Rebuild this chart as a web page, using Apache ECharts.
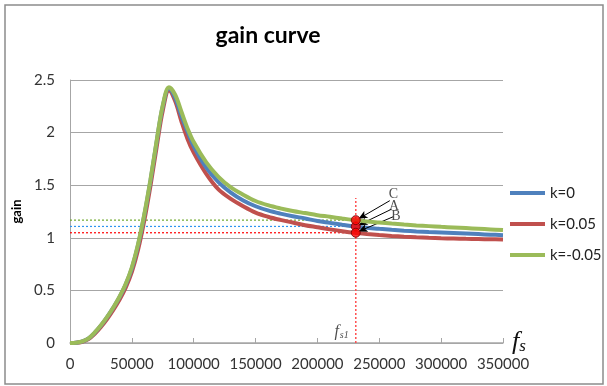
<!DOCTYPE html>
<html>
<head>
<meta charset="utf-8">
<script src="https://cdn.jsdelivr.net/npm/echarts@6/dist/echarts.min.js"></script>
<style>
  html, body { margin: 0; padding: 0; background: #fff; }
  #chart { width: 607px; height: 386px; }
</style>
</head>
<body>
<div id="chart"></div>
<script>
// frequency samples (Hz)
const freqs = [0, 5000, 10000, 15000, 20000, 25000, 30000, 35000, 40000, 45000, 50000,
  55000, 60000, 65000, 70000, 75000, 80000, 85000, 90000, 95000, 100000,
  110000, 120000, 130000, 140000, 150000, 160000, 170000, 180000, 190000, 200000,
  210000, 220000, 230000, 240000, 250000, 260000, 270000, 280000, 290000, 300000,
  310000, 320000, 330000, 340000, 350000]

// gain for each k
const gainK0 = [0, 0.003, 0.015, 0.044, 0.098, 0.166, 0.246, 0.336, 0.435, 0.555, 0.71,
  0.93, 1.21, 1.54, 1.91, 2.25, 2.42, 2.33, 2.16, 2.01, 1.87,
  1.67, 1.53, 1.43, 1.355, 1.30, 1.26, 1.23, 1.205, 1.184, 1.16,
  1.142, 1.124, 1.108, 1.095, 1.085, 1.076, 1.068, 1.061, 1.055, 1.05,
  1.045, 1.04, 1.035, 1.03, 1.025]
const gainK005 = [0, 0.002, 0.012, 0.038, 0.088, 0.153, 0.228, 0.315, 0.41, 0.525, 0.675,
  0.885, 1.16, 1.49, 1.86, 2.21, 2.40, 2.30, 2.11, 1.94, 1.81,
  1.61, 1.46, 1.37, 1.30, 1.24, 1.20, 1.17, 1.145, 1.12, 1.10,
  1.08, 1.063, 1.048, 1.036, 1.026, 1.018, 1.011, 1.005, 1.0, 0.996,
  0.993, 0.99, 0.988, 0.986, 0.984]
const gainKm005 = [0, 0.003, 0.015, 0.045, 0.1, 0.168, 0.248, 0.338, 0.44, 0.56, 0.72,
  0.94, 1.22, 1.55, 1.92, 2.26, 2.43, 2.36, 2.2, 2.04, 1.91,
  1.72, 1.58, 1.48, 1.41, 1.35, 1.31, 1.28, 1.255, 1.235, 1.215,
  1.2, 1.183, 1.168, 1.155, 1.145, 1.135, 1.126, 1.118, 1.111, 1.104,
  1.098, 1.092, 1.086, 1.08, 1.074]

const seriesNames = ['k=0', 'k=0.05', 'k=-0.05']
const seriesColors = ['#4f81bd', '#c0504d', '#9bbb59']

// operating point fs1 and gains read there
const fs1 = 231000
const pointNames = ['A', 'B', 'C']
const pointGains = [1.108, 1.048, 1.168]
const guideColors = ['#2e95f0', '#ff0000', '#6ea82c']
// label positions and arrow starts (data units)
const labelPos = [[262000, 1.30], [263500, 1.207], [261500, 1.41]]
const arrowFrom = [[259900, 1.272], [261200, 1.20], [258500, 1.353]]
const vLineTop = 1.378

const xTicks = [0, 50000, 100000, 150000, 200000, 250000, 300000, 350000]
const yTicks = [0, 0.5, 1, 1.5, 2, 2.5]

const chart = echarts.init(document.getElementById('chart'))

const zip = (ys) => freqs.map((f, i) => [f, ys[i]])
const curveData = [gainK0, gainK005, gainKm005]

const series = curveData.map((ys, i) => ({
  name: seriesNames[i],
  type: 'line',
  data: zip(ys),
  smooth: 0.35,
  showSymbol: false,
  z: 3 + (i === 2 ? 2 : i === 0 ? 1 : 0),
  lineStyle: { color: seriesColors[i], width: 4 },
  itemStyle: { color: seriesColors[i] }
}))

// dotted guide lines from y axis to fs1
pointGains.forEach((g, i) => {
  series.push({
    type: 'line',
    data: [[0, g], [fs1, g]],
    showSymbol: false,
    silent: true,
    z: 2,
    lineStyle: { color: guideColors[i], width: 1.2, type: [2, 2] }
  })
})

// vertical line at fs1
series.push({
  type: 'line',
  data: [[fs1, 0], [fs1, vLineTop]],
  showSymbol: false,
  silent: true,
  z: 2,
  lineStyle: { color: '#ff5050', width: 1.5, type: [2, 2] }
})

// red markers + arrows
series.push({
  type: 'scatter',
  data: pointGains.map(g => [fs1, g]),
  symbolSize: 9,
  z: 10,
  itemStyle: { color: '#ff0000', borderColor: '#6b0000', borderWidth: 1 },
  markLine: {
    silent: true,
    symbol: ['none', 'arrow'],
    symbolSize: [6, 9],
    label: { show: false },
    lineStyle: { color: '#000', width: 1, type: 'solid' },
    data: pointGains.map((g, i) => [
      { coord: arrowFrom[i] },
      { coord: [fs1 + 2200, g + 0.012] }
    ])
  }
})

// point letters
series.push({
  type: 'scatter',
  data: labelPos.map((p, i) => ({ value: p, name: pointNames[i] })),
  symbolSize: 0,
  z: 11,
  label: {
    show: true,
    position: 'inside',
    formatter: p => p.name,
    fontFamily: 'Liberation Serif',
    fontSize: 14,
    color: '#222'
  }
})

// f_s1 label
series.push({
  type: 'scatter',
  data: [[219500, 0.105]],
  symbolSize: 0,
  z: 11,
  label: {
    show: true,
    position: 'inside',
    formatter: '{i|f}{sub|s1}',
    rich: {
      i: { fontFamily: 'Liberation Serif', fontStyle: 'italic', fontSize: 16, color: '#222' },
      sub: { fontFamily: 'Liberation Serif', fontStyle: 'italic', fontSize: 10, color: '#222', padding: [6, 0, 0, 1] }
    }
  }
})

const option = {
  animation: false,
  title: {
    text: 'gain curve',
    left: 263,
    top: 19,
    textAlign: 'center',
    textStyle: { fontFamily: 'Lato', fontWeight: 'bold', fontSize: 23, color: '#000' }
  },
  legend: {
    data: seriesNames,
    orient: 'vertical',
    left: 505,
    top: 180,
    icon: 'rect',
    itemWidth: 35,
    itemHeight: 4,
    itemGap: 15,
    textStyle: { fontFamily: 'Lato', fontSize: 15, color: '#222', lineHeight: 16 }
  },
  grid: { left: 70, right: 104, top: 80, bottom: 43 },
  xAxis: {
    type: 'value',
    min: 0,
    max: 350000,
    interval: 50000,
    axisLine: { lineStyle: { color: '#a6a6a6', width: 1.5 } },
    axisTick: { show: true, inside: true, length: 5, lineStyle: { color: '#a6a6a6' } },
    axisLabel: {
      margin: 14,
      fontFamily: 'Lato',
      fontSize: 15,
      color: '#333',
      customValues: xTicks,
      formatter: v => String(v)
    },
    splitLine: { show: false }
  },
  yAxis: {
    type: 'value',
    min: 0,
    max: 2.5,
    interval: 0.5,
    name: 'gain',
    nameLocation: 'middle',
    nameRotate: 90,
    nameGap: 39,
    nameTextStyle: { fontFamily: 'Lato', fontWeight: 'bold', fontSize: 13, color: '#000' },
    axisLine: { show: true, lineStyle: { color: '#a6a6a6', width: 1 } },
    axisTick: { show: false },
    axisLabel: {
      margin: 15,
      fontFamily: 'Lato',
      fontSize: 15,
      color: '#333',
      customValues: yTicks,
      formatter: v => String(v)
    },
    splitLine: { lineStyle: { color: '#a6a6a6', width: 1 } }
  },
  graphic: [{
    type: 'rect',
    shape: { x: 5, y: 5, width: 598, height: 379 },
    style: { fill: 'none', stroke: '#8c8c8c', lineWidth: 1.5 },
    silent: true,
    z: -1
  }, {
    // x axis name f_s
    type: 'text',
    left: 512,
    top: 329,
    silent: true,
    style: {
      text: '{f|f}{s|s}',
      rich: {
        f: { fontFamily: 'Liberation Serif', fontStyle: 'italic', fontSize: 26, fill: '#111' },
        s: { fontFamily: 'Liberation Serif', fontStyle: 'italic', fontSize: 17, fill: '#111', padding: [10, 0, 0, 0] }
      }
    }
  }],
  series: series
}

chart.setOption(option)
</script>
</body>
</html>
